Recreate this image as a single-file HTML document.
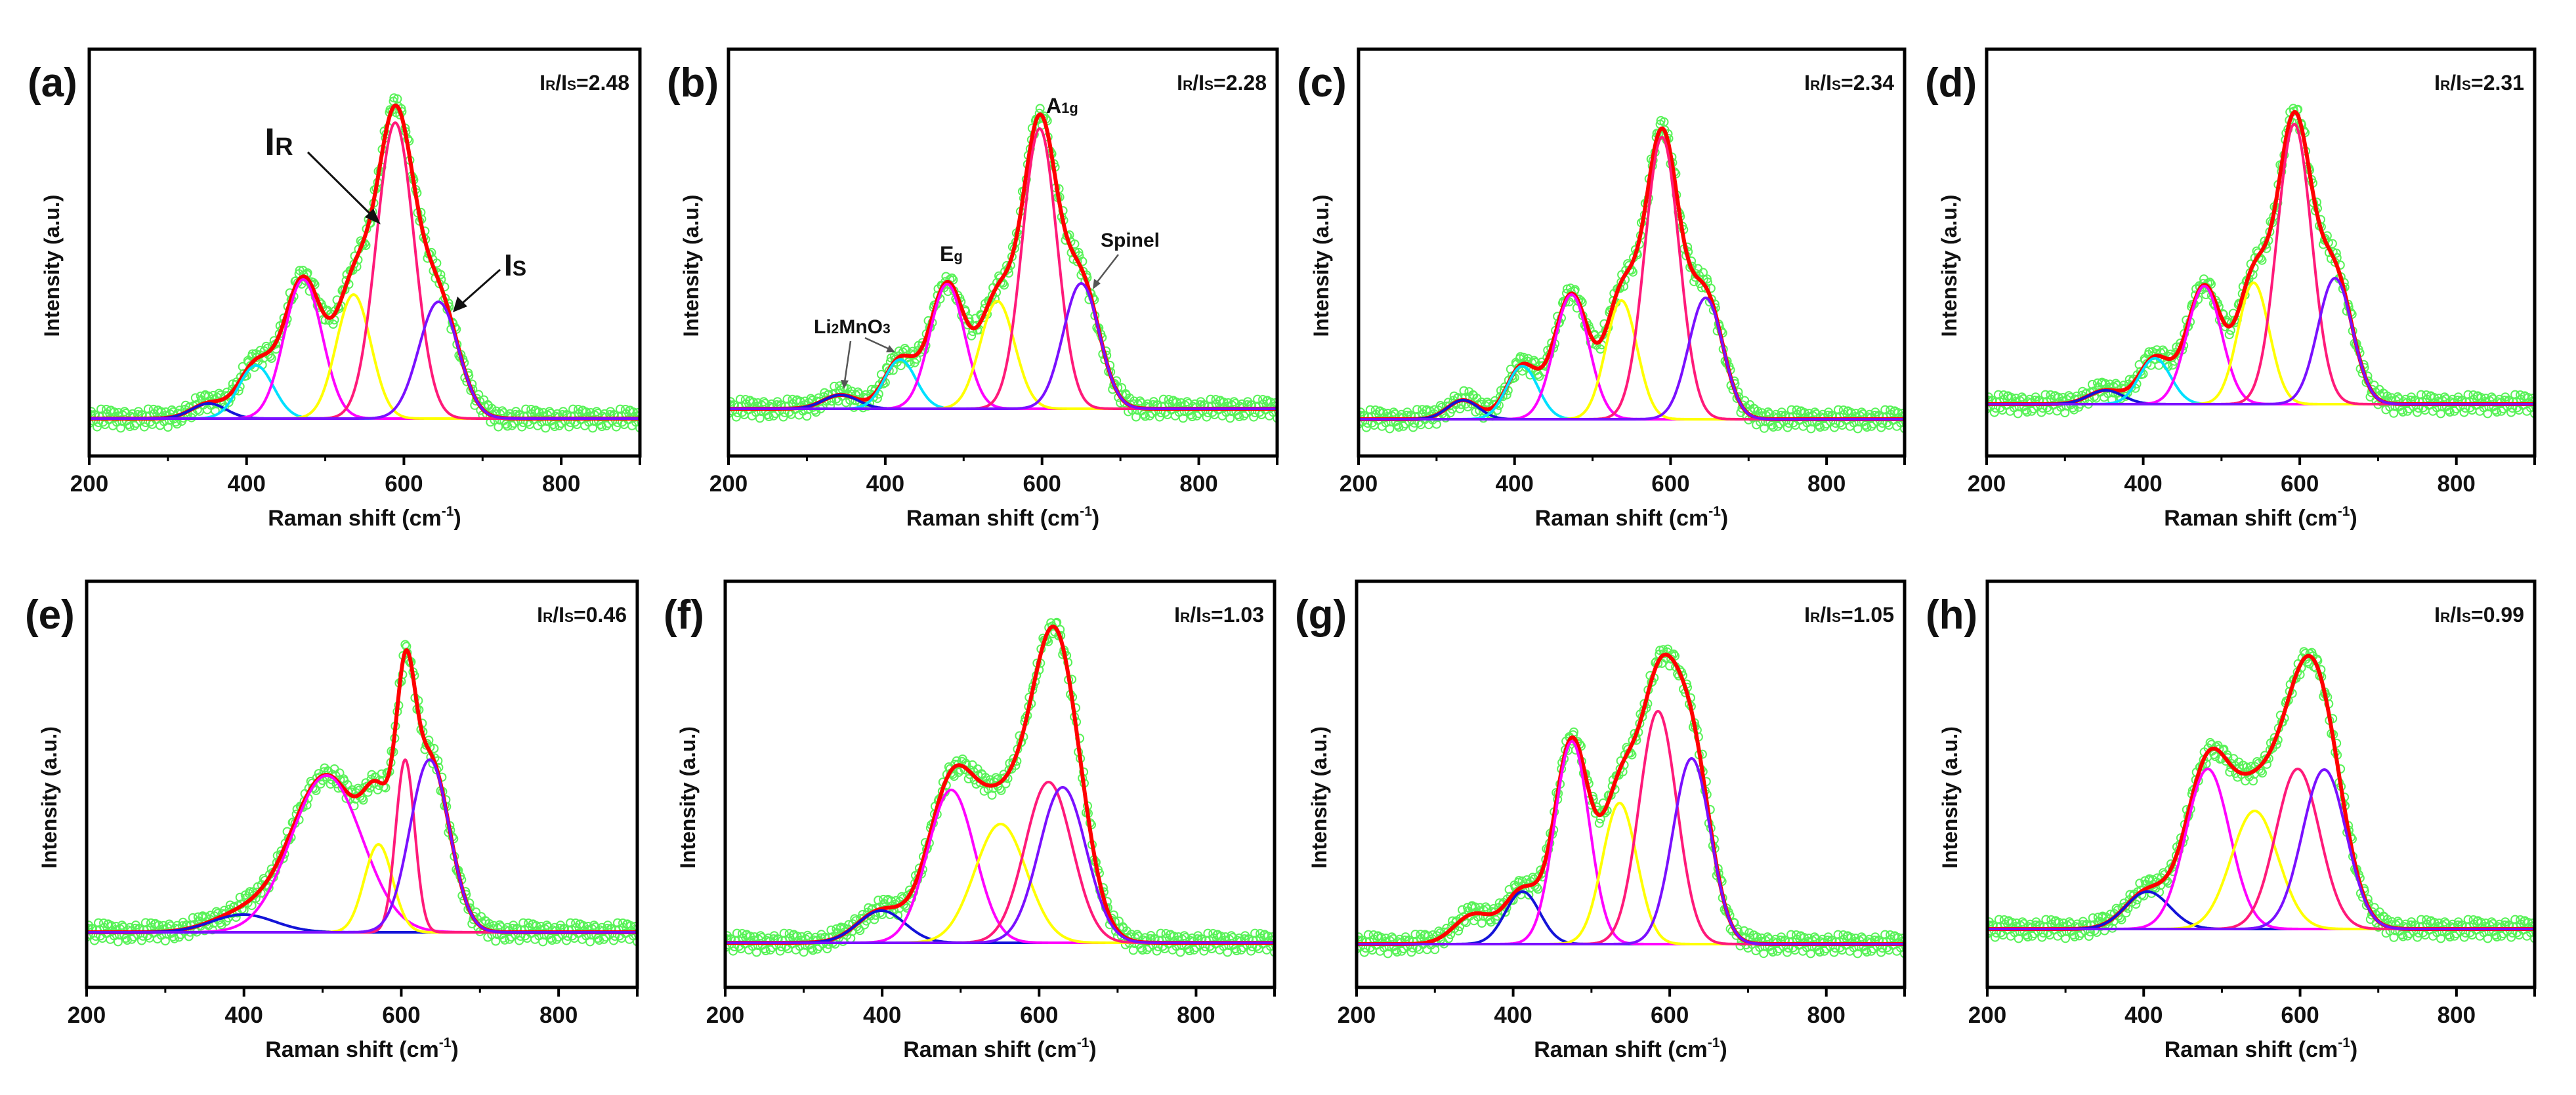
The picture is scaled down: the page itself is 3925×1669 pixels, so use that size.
<!DOCTYPE html>
<html>
<head>
<meta charset="utf-8">
<style>
  html,body{margin:0;padding:0;background:#fff;}
  svg{display:block;}
  text{font-family:"Liberation Sans",Arial,sans-serif;font-weight:bold;fill:#111;}
</style>
</head>
<body>
<svg id="fig" width="3925" height="1669" viewBox="0 0 3925 1669" xmlns="http://www.w3.org/2000/svg">
  <rect x="0" y="0" width="3925" height="1669" fill="#ffffff"/>
  <g id="panels"></g>
  <g id="annotations">
    <text x="403" y="236" font-size="58">I<tspan font-size="38">R</tspan></text>
    <line x1="469" y1="232" x2="570" y2="332" stroke="#111" stroke-width="3"/>
    <polygon points="580,342 556,331 569,318" fill="#111"/>
    <text x="768" y="420" font-size="46">I<tspan font-size="32">S</tspan></text>
    <line x1="762" y1="411" x2="700" y2="466" stroke="#111" stroke-width="3"/>
    <polygon points="690,476 697,452 712,467" fill="#111"/>
    <text x="1594" y="172" font-size="32">A<tspan font-size="22">1g</tspan></text>
    <text x="1432" y="398" font-size="32">E<tspan font-size="22">g</tspan></text>
    <text x="1677" y="376" font-size="30">Spinel</text>
    <line x1="1704" y1="388" x2="1670" y2="432" stroke="#555" stroke-width="2.5"/>
    <polygon points="1665,441 1667,425 1677,432" fill="#555"/>
    <text x="1240" y="508" font-size="30">Li<tspan font-size="21">2</tspan>MnO<tspan font-size="21">3</tspan></text>
    <line x1="1296" y1="520" x2="1287" y2="582" stroke="#555" stroke-width="2.5"/>
    <polygon points="1286,593 1281,579 1293,580" fill="#555"/>
    <line x1="1318" y1="515" x2="1355" y2="532" stroke="#555" stroke-width="2.5"/>
    <polygon points="1364,537 1350,537 1355,526" fill="#555"/>
  </g>
</svg>
<script>
const panelIds = ['a','b','c','d','e','f','g','h'];
const ratioValues = ['2.48','2.28','2.34','2.31','0.46','1.03','1.05','0.99'];
const xTicks = [200, 400, 600, 800];
const xMinorTicks = [300, 500, 700];

const centersA = [352, 412, 472, 536, 589, 644];
const heightsA = [23, 81, 212, 189, 451, 178];
const widthsA  = [22, 22, 24, 22, 24, 25];

const centersB = [343, 419, 479, 543, 597, 650];
const heightsB = [21, 75, 190, 164, 427, 191];
const widthsB  = [22, 20, 22, 22, 22, 23];

const centersC = [334, 410, 473, 537, 589, 645];
const heightsC = [29, 81, 190, 181, 430, 185];
const widthsC  = [20, 20, 22, 20, 22, 22];

const centersD = [352, 415, 478, 541, 593, 645];
const heightsD = [21, 70, 180, 185, 427, 192];
const widthsD  = [22, 20, 22, 20, 22, 22];

const centersE = [399, 505, 571, 605, 636];
const heightsE = [27, 239, 134, 263, 263];
const widthsE  = [40, 45, 18, 12, 25];

const centersF = [399, 488, 551, 612, 630];
const heightsF = [49, 233, 181, 245, 237];
const widthsF  = [30, 30, 33, 30, 30];

const centersG = [412, 475, 536, 585, 628];
const heightsG = [80, 309, 215, 355, 283];
const widthsG  = [22, 22, 22, 24, 24];
// hidden shoulder in panel g fit near 350 cm-1
const shoulderG = [350, 45, 25];

const centersH = [405, 482, 542, 597, 631];
const heightsH = [57, 244, 180, 244, 243];
const widthsH  = [28, 28, 30, 28, 28];

const scatterOffsets = [4,-6,2,-3,7,-2,-8,3,5,-4,1,-7,6,-1,3,-5,8,-3,-6,2,5,-2,-4,6];

const layout = [
  {left:136, right:975, top:75, bottom:695, base:638},
  {left:1110,right:1946,top:75, bottom:695, base:623},
  {left:2070,right:2902,top:75, bottom:695, base:639},
  {left:3027,right:3862,top:75, bottom:695, base:616},
  {left:132, right:971, top:886,bottom:1505,base:1421},
  {left:1105,right:1942,top:886,bottom:1505,base:1437},
  {left:2067,right:2902,top:886,bottom:1505,base:1439},
  {left:3028,right:3862,top:886,bottom:1505,base:1416}
];
const sixColors = ['#1414d8','#00e0ff','#ff00ff','#ffff00','#ff1a7a','#7a10ff'];
const fiveColors = ['#1414d8','#ff00ff','#ffff00','#ff1a7a','#7a10ff'];
const allCenters = [centersA,centersB,centersC,centersD,centersE,centersF,centersG,centersH];
const allHeights = [heightsA,heightsB,heightsC,heightsD,heightsE,heightsF,heightsG,heightsH];
const allWidths  = [widthsA,widthsB,widthsC,widthsD,widthsE,widthsF,widthsG,widthsH];

const NS = 'http://www.w3.org/2000/svg';
const root = document.getElementById('panels');
function mk(tag, attrs, parent){
  const el = document.createElementNS(NS, tag);
  for (const k in attrs) el.setAttribute(k, attrs[k]);
  parent.appendChild(el);
  return el;
}
function gauss(x,c,a,s){ return a*Math.exp(-((x-c)*(x-c))/(2*s*s)); }

panelIds.forEach((id, i) => {
  const L = layout[i];
  const xs = v => L.left + (v-200)/700*(L.right-L.left);
  const ys = v => L.base - v;
  const C = allCenters[i], H = allHeights[i], W = allWidths[i];
  const colors = C.length === 6 ? sixColors : fiveColors;
  const g = mk('g', {}, root);
  
  

  const clipId = 'clip' + id;
  const cp = mk('clipPath', {id: clipId}, g);
  mk('rect', {x:L.left, y:L.top, width:L.right-L.left, height:L.bottom-L.top}, cp);
  const plot = mk('g', {'clip-path':'url(#'+clipId+')'}, g);
  
  

  const extra = x => (id === 'g' ? gauss(x, shoulderG[0], shoulderG[1], shoulderG[2]) : 0);
  const sum = x => C.reduce((s,c,k)=>s+gauss(x,c,H[k],W[k]),0) + extra(x);

  const sc = mk('g', {fill:'none', stroke:'#3cf03c', 'stroke-width':'2', opacity:'0.85'}, plot);
  
  
  let n = 0;
  for (let x = 200; x <= 900; x += 2.5) {
    const off = scatterOffsets[n % scatterOffsets.length];
    const off2 = scatterOffsets[(n*7+3) % scatterOffsets.length];
    const c1 = mk('circle', {cx: xs(x).toFixed(1), cy: (ys(sum(x)) + off*1.8).toFixed(1), r: 6}, sc);
    
    
    if (n % 2 === 0) {
      const c2 = mk('circle', {cx: (xs(x)+2).toFixed(1), cy: (ys(sum(x)) + off2*2.0).toFixed(1), r: 6}, sc);
      
      
    }
    n++;
  }

  let d = '';
  for (let x = 200; x <= 900; x += 1) d += (x===200?'M':'L') + xs(x).toFixed(1) + ',' + ys(sum(x)).toFixed(1);
  const fit = mk('path', {d:d, fill:'none', stroke:'#ff0000', 'stroke-width':'6', 'stroke-linejoin':'round'}, plot);
  
  

  C.forEach((c,k) => {
    let p = '';
    for (let x = 200; x <= 900; x += 1) p += (x===200?'M':'L') + xs(x).toFixed(1) + ',' + ys(gauss(x,c,H[k],W[k])).toFixed(1);
    const comp = mk('path', {d:p, fill:'none', stroke:colors[k], 'stroke-width':'4', 'stroke-linejoin':'round'}, plot);
    
    
  });

  const frame = mk('rect', {x:L.left, y:L.top, width:L.right-L.left, height:L.bottom-L.top, fill:'none', stroke:'#000', 'stroke-width':'5'}, g);
  
  

  xTicks.concat([900]).forEach(t => {
    const tk = mk('line', {x1:xs(t), x2:xs(t), y1:L.bottom, y2:L.bottom+14, stroke:'#000', 'stroke-width':'4'}, g);
    
    
  });
  xMinorTicks.forEach(t => {
    const tk = mk('line', {x1:xs(t), x2:xs(t), y1:L.bottom, y2:L.bottom+8, stroke:'#000', 'stroke-width':'3'}, g);
    
    
  });
  xTicks.forEach(t => {
    const tl = mk('text', {x:xs(t), y:L.bottom+54, 'font-size':'35', 'text-anchor':'middle'}, g);
    tl.textContent = String(t);
    
    
  });

  const xt = mk('text', {x:(L.left+L.right)/2, y:L.bottom+106, 'font-size':'34', 'text-anchor':'middle'}, g);
  xt.innerHTML = 'Raman shift (cm<tspan font-size="21" dy="-15">-1</tspan><tspan dy="15">)</tspan>';
  
  
  const yc = (L.top+L.bottom)/2 + 20;
  const yt = mk('text', {x:L.left-46, y:yc, 'font-size':'32', 'text-anchor':'middle', transform:'rotate(-90 '+(L.left-46)+' '+yc+')'}, g);
  yt.textContent = 'Intensity (a.u.)';
  
  

  const pl = mk('text', {x:L.left-94, y:L.top+72, 'font-size':'62'}, g);
  pl.textContent = '(' + id + ')';
  
  

  const rt = mk('text', {x:L.right-16, y:L.top+62, 'font-size':'32', 'text-anchor':'end'}, g);
  rt.innerHTML = 'I<tspan font-size="21">R</tspan>/I<tspan font-size="21">S</tspan>=' + ratioValues[i];
  
  
});
</script>
</body>
</html>
